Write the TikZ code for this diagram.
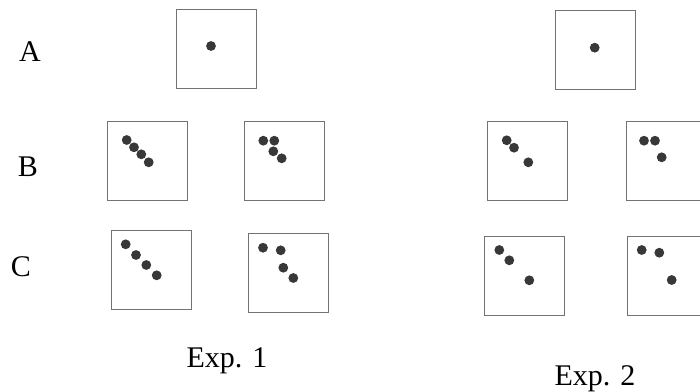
\documentclass[tikz,border=0pt]{standalone}
\usepackage{fontspec}
\setmainfont{Liberation Serif}
\usetikzlibrary{calc}

\tikzset{
  stim/.style={draw=black!55, line width=1.3pt, minimum width=80pt, minimum height=79pt, inner sep=0pt, anchor=north west},
  spot/.style={circle, fill=black!78, minimum size=9.8pt, inner sep=0pt},
  lbl/.style={font=\fontsize{30}{36}\selectfont, anchor=base, inner sep=0pt}
}

\begin{document}
\begin{tikzpicture}[x=1pt,y=-1pt]
\useasboundingbox (0,0) rectangle (700,391);
\clip (0,0) rectangle (700,391);

\node[lbl] (la) at (30,61) {A};
\node[lbl] (lb) at (28,176) {B};
\node[lbl] (lc) at (21,276) {C};

\node[stim] (a1) at (176,9) {};
\node[stim] (b1l) at (107,121) {};
\node[stim] (b1r) at (244,121) {};
\node[stim] (c1l) at (111,230) {};
\node[stim] (c1r) at (248,233) {};

\node[stim] (a2) at (555,10) {};
\node[stim] (b2l) at (487,121) {};
\node[stim] (b2r) at (626,121) {};
\node[stim] (c2l) at (484,236) {};
\node[stim] (c2r) at (627,236) {};

\foreach \x/\y in {35/37}
  \node[spot] at ($(a1.north west)+(\x,\y)$) {};
\foreach \x/\y in {19.7/19, 27/26.3, 34.3/33.3, 41.7/41.3}
  \node[spot] at ($(b1l.north west)+(\x,\y)$) {};
\foreach \x/\y in {19.3/19.7, 30.3/19.7, 29.3/30.3, 37.7/37.3}
  \node[spot] at ($(b1r.north west)+(\x,\y)$) {};
\foreach \x/\y in {14.7/14.3, 25/25, 35.3/35, 45.7/45.3}
  \node[spot] at ($(c1l.north west)+(\x,\y)$) {};
\foreach \x/\y in {15/14.7, 32.7/17.3, 35.3/34.7, 45.3/45}
  \node[spot] at ($(c1r.north west)+(\x,\y)$) {};

\foreach \x/\y in {39.7/37.7}
  \node[spot] at ($(a2.north west)+(\x,\y)$) {};
\foreach \x/\y in {19.7/19.3, 27/26.7, 41.3/41.3}
  \node[spot] at ($(b2l.north west)+(\x,\y)$) {};
\foreach \x/\y in {18/19.7, 29/19.7, 35.7/36.3}
  \node[spot] at ($(b2r.north west)+(\x,\y)$) {};
\foreach \x/\y in {15.3/14, 25.3/24.3, 45.3/44.3}
  \node[spot] at ($(c2l.north west)+(\x,\y)$) {};
\foreach \x/\y in {14.7/14, 32.3/16.7, 44.7/44}
  \node[spot] at ($(c2r.north west)+(\x,\y)$) {};

\node[lbl] (e1) at (227,367) {Exp. 1};
\node[lbl] (e2) at (595,385) {Exp. 2};
\end{tikzpicture}
\end{document}
